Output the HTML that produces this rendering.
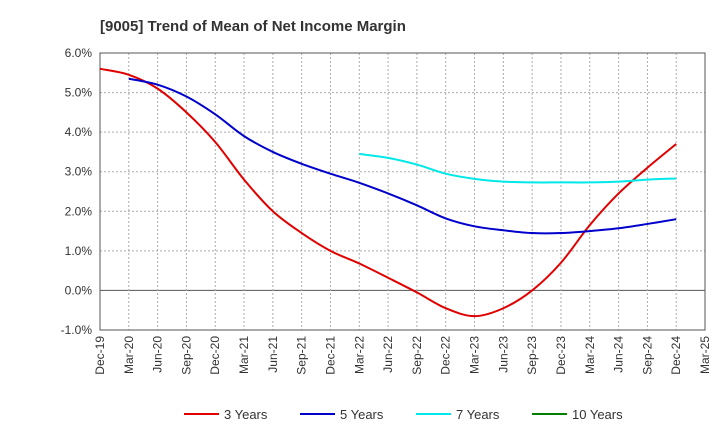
<!DOCTYPE html>
<html><head><meta charset="utf-8"><style>
body{margin:0;background:#fff;font-family:"Liberation Sans",Arial,sans-serif;}
svg text{font-family:"Liberation Sans",Arial,sans-serif;}
</style></head><body>
<svg id="chart" width="720" height="440" viewBox="0 0 720 440" xmlns="http://www.w3.org/2000/svg">
<text x="100" y="31" font-size="15" font-weight="bold" fill="#333">[9005]  Trend of Mean of Net Income Margin</text>
<g id="grid"></g><g id="axes"></g><g id="series"></g><g id="legend"></g>
</svg>
<script>
const categories=["Dec-19","Mar-20","Jun-20","Sep-20","Dec-20","Mar-21","Jun-21","Sep-21","Dec-21","Mar-22","Jun-22","Sep-22","Dec-22","Mar-23","Jun-23","Sep-23","Dec-23","Mar-24","Jun-24","Sep-24","Dec-24","Mar-25"];
const yTicks=[6,5,4,3,2,1,0,-1];
const yTickLabels=["6.0%","5.0%","4.0%","3.0%","2.0%","1.0%","0.0%","-1.0%"];
const series3=[5.6,5.45,5.1,4.5,3.75,2.8,2.0,1.45,1.0,0.68,0.32,-0.05,-0.45,-0.65,-0.45,0.0,0.7,1.65,2.45,3.1,3.7];
const series5=[null,5.35,5.2,4.9,4.45,3.9,3.5,3.2,2.95,2.72,2.45,2.15,1.82,1.62,1.52,1.45,1.45,1.5,1.57,1.68,1.8];
const series7=[null,null,null,null,null,null,null,null,null,3.45,3.35,3.18,2.95,2.82,2.75,2.73,2.73,2.73,2.75,2.8,2.83];
const series10=[];
const seriesNames=["3 Years","5 Years","7 Years","10 Years"];
const seriesColors=["#e00000","#0000cc","#00e8e8","#008000"];
const L=100,R=705,T=53,B=330;
const x=i=>L+(R-L)*i/(categories.length-1);
const y=v=>T+(B-T)*(6-v)/7;
const NS="http://www.w3.org/2000/svg";
function mk(p,t,a){const e=document.createElementNS(NS,t);for(const k in a)e.setAttribute(k,a[k]);p.appendChild(e);return e;}
const grid=document.getElementById('grid'),axes=document.getElementById('axes'),ser=document.getElementById('series'),leg=document.getElementById('legend');
yTicks.forEach((v,i)=>{
 const l=mk(grid,'line',{x1:L,x2:R,y1:y(v),y2:y(v),stroke:v===0?'#555':'#aaa','stroke-width':1,'stroke-dasharray':v===0?'':'2,2'});
 
 
 const t=mk(axes,'text',{x:L-8,y:y(v)+4,'text-anchor':'end','font-size':12,fill:'#333'});
 t.textContent=yTickLabels[i];
 
 
});
categories.forEach((c,i)=>{
 const l=mk(grid,'line',{x1:x(i),x2:x(i),y1:T,y2:B,stroke:'#aaa','stroke-width':1,'stroke-dasharray':'2,2'});
 
 
 const t=mk(axes,'text',{transform:`translate(${x(i)+4},${B+6}) rotate(-90)`,'text-anchor':'end','font-size':12,fill:'#333'});
 t.textContent=c;
 
 
});
const frame=mk(axes,'rect',{x:L,y:T,width:R-L,height:B-T,fill:'none',stroke:'#555'});


function path(data){
 const pts=[];data.forEach((v,i)=>{if(v!==null&&v!==undefined)pts.push([x(i),y(v)]);});
 if(pts.length<2)return '';
 let d=`M${pts[0][0]},${pts[0][1]}`;
 for(let i=0;i<pts.length-1;i++){
  const p0=pts[Math.max(0,i-1)],p1=pts[i],p2=pts[i+1],p3=pts[Math.min(pts.length-1,i+2)];
  const c1=[p1[0]+(p2[0]-p0[0])/6,p1[1]+(p2[1]-p0[1])/6],c2=[p2[0]-(p3[0]-p1[0])/6,p2[1]-(p3[1]-p1[1])/6];
  d+=` C${c1[0]},${c1[1]} ${c2[0]},${c2[1]} ${p2[0]},${p2[1]}`;
 }
 return d;
}
[series3,series5,series7,series10].forEach((s,k)=>{
 const d=path(s);if(!d)return;
 const p=mk(ser,'path',{d:d,fill:'none',stroke:seriesColors[k],'stroke-width':2});
 
 
});
const lx=[184,300,416,532];
seriesNames.forEach((n,k)=>{
 const g=mk(leg,'g',{});
 
 
 mk(g,'line',{x1:lx[k],x2:lx[k]+35,y1:414,y2:414,stroke:seriesColors[k],'stroke-width':2});
 const t=mk(g,'text',{x:lx[k]+40,y:419,'font-size':13,fill:'#333'});
 t.textContent=n;
});
</script>
</body></html>
